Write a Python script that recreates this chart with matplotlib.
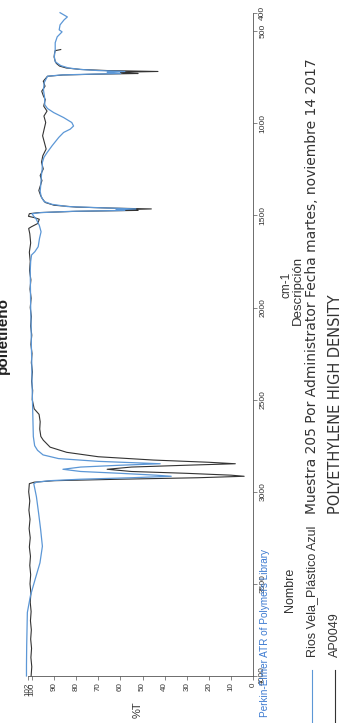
import matplotlib
matplotlib.use("Agg")
import matplotlib.pyplot as plt
from matplotlib.lines import Line2D

plt.rcParams["font.family"] = ["Liberation Sans", "DejaVu Sans"]

# ---- data -------------------------------------------------------------
# AP0049 library spectrum (POLYETHYLENE HIGH DENSITY), wavenumber / %T
wn_ap0049 = [600, 606, 620, 640, 660, 675, 690, 700, 708, 714, 719, 723, 727, 730,
             734, 738, 745, 772, 799, 826, 853, 871, 907, 934, 961, 996, 1032, 1068,
             1104, 1140, 1176, 1212, 1248, 1284, 1311, 1338, 1365, 1392, 1410, 1430,
             1445, 1455, 1461, 1465, 1469, 1473, 1478, 1485, 1491, 1505, 1512, 1521,
             1544, 1562, 1571, 1600, 1650, 1700, 1750, 1800, 1850, 1900, 1950, 2000,
             2050, 2100, 2150, 2200, 2250, 2300, 2350, 2400, 2450, 2500, 2550, 2580,
             2620, 2660, 2700, 2720, 2758, 2786, 2810, 2828, 2840, 2848, 2856, 2866,
             2878, 2890, 2900, 2910, 2916, 2924, 2932, 2940, 2948, 2956, 3000, 3050,
             3100, 3150, 3200, 3250, 3300, 3350, 3400, 3450, 3500, 3550, 3600, 3650,
             3700, 3750, 3800, 3850, 3900, 3950, 4000]
t_ap0049 = [87.0, 89.5, 89.8, 90.0, 89.6, 89.0, 87.5, 84.5, 78.0, 66.0, 43.0, 60.0, 58.0, 52.0,
            72.0, 86.0, 93.0, 94.9, 94.1, 95.6, 94.8, 94.0, 94.7, 93.2, 94.6, 93.8, 94.5, 95.2,
            94.4, 93.6, 95.1, 95.7, 94.9, 96.3, 95.5, 96.2, 96.9, 96.1, 95.3, 94.0,
            90.0, 80.0, 62.0, 46.0, 58.0, 52.0, 80.0, 97.0, 101.2, 101.6, 99.0, 96.7,
            97.4, 100.3, 101.5, 101.0, 100.6, 101.2, 100.8, 101.1, 100.5, 100.9, 100.4, 100.8,
            100.3, 100.6, 100.1, 100.5, 100.0, 100.3, 99.8, 100.2, 99.7, 99.9, 99.0, 96.8,
            96.3, 96.5, 96.0, 94.9, 91.8, 84.3, 70.0, 45.0, 20.0, 8.0, 30.0, 55.0,
            66.0, 55.0, 30.0, 10.0, 4.0, 25.0, 60.0, 90.0, 99.0, 101.2, 101.5, 101.0,
            101.4, 100.9, 101.3, 100.8, 101.2, 100.7, 101.0, 100.6, 100.9, 100.5, 100.8, 100.4,
            100.7, 100.3, 100.6, 100.2, 100.5, 100.1, 100.4]

# Rios Vela_Plástico Azul sample spectrum, wavenumber / %T
wn_sample = [400, 423, 439, 466, 493, 504, 531, 563, 601, 639, 666, 687, 700, 708,
             714, 719, 723, 727, 730, 734, 738, 745, 780, 820, 860, 900, 920, 942,
             969, 996, 1015, 1032, 1050, 1077, 1122, 1158, 1185, 1212, 1250, 1290,
             1330, 1370, 1400, 1425, 1440, 1452, 1460, 1465, 1469, 1473, 1478, 1485,
             1491, 1505, 1518, 1554, 1589, 1625, 1670, 1697, 1715, 1750, 1800, 1900,
             2000, 2100, 2200, 2300, 2400, 2500, 2600, 2700, 2750, 2775, 2800, 2820,
             2835, 2848, 2856, 2866, 2878, 2890, 2900, 2910, 2916, 2924, 2932, 2940,
             2948, 2956, 3027, 3117, 3204, 3296, 3386, 3472, 3564, 3655, 3834, 3942, 4000]
t_sample = [87.3, 84.0, 85.5, 87.3, 87.7, 86.4, 88.6, 89.5, 89.5, 89.9, 89.5, 87.0, 83.5, 78.0,
            70.0, 58.0, 66.0, 65.0, 60.0, 75.0, 87.0, 93.0, 94.5, 94.8, 94.3, 94.2, 93.0, 90.2,
            85.7, 82.0, 81.2, 82.7, 85.7, 87.9, 90.9, 93.1, 94.6, 95.3, 95.4, 95.8,
            96.0, 96.3, 95.8, 94.5, 91.0, 84.0, 66.0, 53.0, 62.0, 58.0, 82.0, 96.0,
            100.0, 99.2, 98.2, 96.7, 95.9, 96.6, 97.2, 98.7, 100.2, 100.6, 100.8, 100.7,
            100.6, 100.4, 100.3, 100.1, 100.0, 99.8, 99.6, 99.4, 98.8, 97.5, 95.0, 88.0,
            70.0, 42.0, 60.0, 78.0, 86.0, 78.0, 60.0, 44.0, 37.0, 55.0, 78.0, 92.0,
            98.0, 99.2, 98.0, 97.0, 96.1, 95.3, 96.4, 98.5, 100.7, 102.1, 102.4, 102.5, 102.5]

t_ticks = [0, 10, 20, 30, 40, 50, 60, 70, 80, 90, 100, 102]
wn_ticks = [4000, 3500, 3000, 2500, 2000, 1500, 1000, 500, 400]

legend_names = ["Rios Vela_Plástico Azul", "AP0049"]
legend_descr = ["Muestra 205 Por Administrator Fecha martes, noviembre 14 2017",
                "POLYETHYLENE HIGH DENSITY"]

# ---- figure (page printed in portrait, spectrum turned on its side) ----
W, H = 346, 723
fig = plt.figure(figsize=(W / 100, H / 100), dpi=100)
fig.patch.set_facecolor("white")


def fx(px):
    return px / W


def fy(py):
    return 1 - py / H


BLUE = "#5c97d6"
DARK = "#333333"
AXC = "#555555"

x_zero, t_scale = 253.0, 2.21
top_px, bot_px = 12.7, 676.0
ax = fig.add_axes([fx(x_zero - 102 * t_scale), fy(bot_px),
                   102 * t_scale / W, (bot_px - top_px) / H])
ax.set_xlim(102, 0)
ax.set_ylim(4000, 400)
ax.patch.set_alpha(0)

for side in ("top", "left"):
    ax.spines[side].set_visible(False)
for side in ("right", "bottom"):
    ax.spines[side].set_color(AXC)
    ax.spines[side].set_linewidth(0.6)

ax.plot(t_ap0049, wn_ap0049, color=DARK, lw=0.8, clip_on=False)
ax.plot(t_sample, wn_sample, color=BLUE, lw=0.9, clip_on=False)

ax.set_xticks(t_ticks)
ax.set_xticklabels([str(t) for t in t_ticks], rotation=90, fontsize=5.8, color="#333")
ax.yaxis.tick_right()
ax.set_yticks(wn_ticks)
ax.set_yticklabels([str(w) for w in wn_ticks], rotation=90, va="center",
                   fontsize=6.0, color="#333")
ax.tick_params(axis="both", direction="out", length=3, width=0.5, color=AXC, pad=1.5)

# ---- texts ------------------------------------------------------------
rot = dict(rotation=90, rotation_mode="anchor")
fig.text(fx(7), fy(335), "polietileno", ha="center", va="baseline",
         fontsize=11, fontweight="bold", color="#222", **rot)
fig.text(fx(138), fy(710), "%T", ha="center", va="center", fontsize=8, color="#333", **rot)
fig.text(fx(265), fy(717), "Perkin-Elmer ATR of Polymers Library", ha="left",
         va="center", fontsize=7.2, color="#3c7ad0", **rot)
fig.text(fx(287), fy(285), "cm-1", ha="center", va="center", fontsize=8.5,
         color="#333", **rot)
fig.text(fx(298), fy(290), "Descripción", ha="center", va="center", fontsize=9.5,
         color="#333", **rot)
fig.text(fx(290), fy(590), "Nombre", ha="center", va="center", fontsize=9,
         color="#333", **rot)

descr_sizes = [10.0, 10.5]
for col_x, name, descr, c, ds in zip([312, 335], legend_names, legend_descr,
                                     [BLUE, DARK], descr_sizes):
    fig.add_artist(Line2D([fx(col_x), fx(col_x)], [fy(670), fy(723)], color=c,
                          lw=0.8, transform=fig.transFigure))
    fig.text(fx(col_x), fy(657), name, ha="left", va="center", fontsize=9,
             color="#333", **rot)
    fig.text(fx(col_x), fy(514), descr, ha="left", va="center", fontsize=ds,
             family=["DejaVu Sans"], color="#333", **rot)

fig.savefig("out.png", dpi=100, facecolor="white")
